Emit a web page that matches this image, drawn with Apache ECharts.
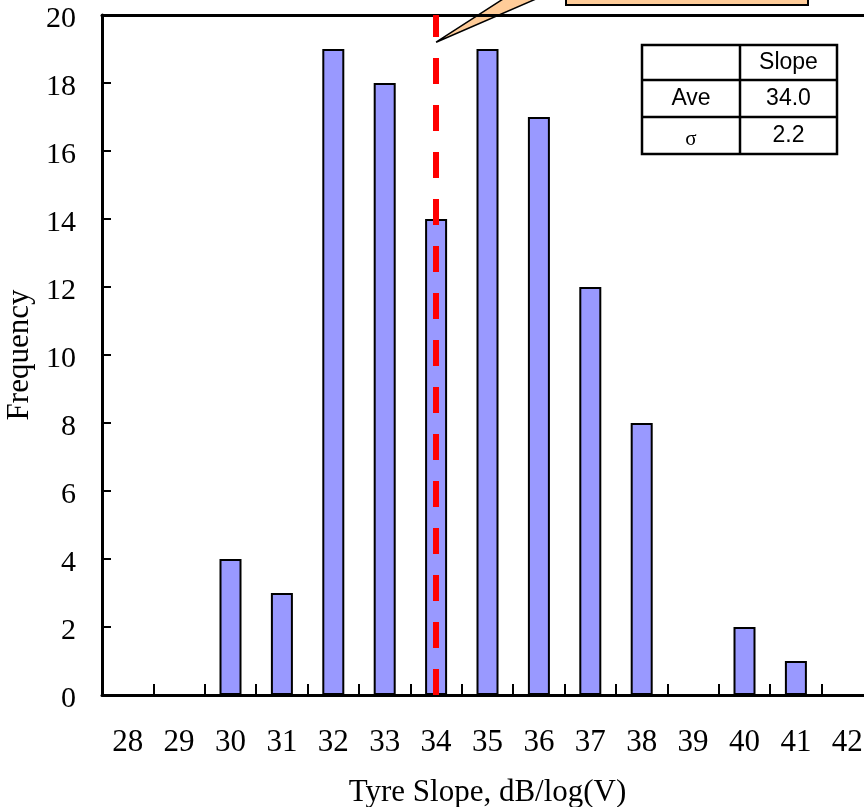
<!DOCTYPE html>
<html>
<head>
<meta charset="utf-8">
<script src="https://cdn.jsdelivr.net/npm/echarts@6/dist/echarts.min.js"></script>
<style>
  html, body { margin: 0; padding: 0; background: #fff; }
  #chart { width: 864px; height: 807px; }
</style>
</head>
<body>
<div id="chart"></div>
<script>
// Tyre slope histogram
const slopeBins = ['28', '29', '30', '31', '32', '33', '34', '35', '36', '37', '38', '39', '40', '41', '42'];
const frequency = [0, 0, 4, 3, 19, 18, 14, 19, 17, 12, 8, 0, 2, 1, 0];
const yTicks = [0, 2, 4, 6, 8, 10, 12, 14, 16, 18, 20];

// summary table
const statHeader = 'Slope';
const statNames = ['Ave', 'σ'];
const statValues = ['34.0', '2.2'];
const averageBin = '34';
const calloutValue = 19.2;

const serif = '"Liberation Serif", "DejaVu Serif", serif';
const sans = '"Liberation Sans", Arial, sans-serif';

const chart = echarts.init(document.getElementById('chart'), null, { renderer: 'canvas' });

const option = {
  animation: false,
  backgroundColor: '#ffffff',
  grid: { left: 102, top: 15, width: 771, height: 680, show: false, containLabel: false, outerBoundsMode: 'none' },
  xAxis: [{
    type: 'category',
    data: slopeBins,
    position: 'bottom',
    boundaryGap: true,
    axisLine: { show: true, lineStyle: { color: '#000', width: 3 } },
    axisTick: { show: true, inside: true, alignWithLabel: false, interval: 0, length: 11, lineStyle: { color: '#000', width: 2 } },
    axisLabel: { color: '#000', fontFamily: serif, fontSize: 31, margin: 32, interval: 0 },
    name: 'Tyre Slope, dB/log(V)',
    nameLocation: 'middle',
    nameGap: 82,
    nameTextStyle: { color: '#000', fontFamily: serif, fontSize: 31 },
    z: 5
  }, {
    // top frame line of the plot area
    type: 'category',
    data: slopeBins,
    position: 'top',
    axisLine: { show: true, lineStyle: { color: '#000', width: 3 } },
    axisTick: { show: false },
    axisLabel: { show: false },
    z: 5
  }],
  yAxis: {
    type: 'value',
    min: 0,
    max: 20,
    interval: 2,
    axisLine: { show: true, lineStyle: { color: '#000', width: 3 } },
    axisTick: { show: true, inside: true, length: 9, lineStyle: { color: '#000', width: 2 } },
    axisLabel: {
      color: '#000', fontFamily: serif, fontSize: 30, margin: 26,
      formatter: v => (yTicks.includes(v) ? '{n|' + v + '}' : ''),
      rich: { n: { fontFamily: serif, fontSize: 30, color: '#000', padding: [8, 0, 0, 0] } }
    },
    splitLine: { show: false },
    name: 'Frequency',
    nameLocation: 'middle',
    nameGap: 62,
    nameTextStyle: { color: '#000', fontFamily: serif, fontSize: 31 },
    z: 5
  },
  series: [{
    type: 'bar',
    data: frequency,
    barWidth: 22,
    itemStyle: { color: '#9999ff', borderColor: '#000', borderWidth: 2 },
    markLine: {
      silent: true,
      symbol: 'none',
      label: { show: false },
      lineStyle: { color: '#ff0000', width: 6, type: [26, 21] },
      data: [[{ xAxis: averageBin, yAxis: 0 }, { xAxis: averageBin, yAxis: 20 }]],
      z: 6
    },
    z: 3
  }]
};

chart.setOption(option);

// callout pointing at the average line, and the summary table
const tip = chart.convertToPixel({ xAxisIndex: 0, yAxisIndex: 0 }, [averageBin, calloutValue]);
const rise = tip[1] + 60;
const tbl = { x: 642, y: 45, w: 195, colSplit: 98, rows: [35, 37, 37] };
const rowY = [tbl.y, tbl.y + tbl.rows[0], tbl.y + tbl.rows[0] + tbl.rows[1], tbl.y + tbl.rows[0] + tbl.rows[1] + tbl.rows[2]];

const tableEls = [
  { type: 'rect', shape: { x: tbl.x, y: tbl.y, width: tbl.w, height: rowY[3] - tbl.y },
    style: { fill: '#fff', stroke: '#000', lineWidth: 2.5 } },
  { type: 'line', shape: { x1: tbl.x + tbl.colSplit, y1: tbl.y, x2: tbl.x + tbl.colSplit, y2: rowY[3] },
    style: { stroke: '#000', lineWidth: 2.5 } },
  { type: 'line', shape: { x1: tbl.x, y1: rowY[1], x2: tbl.x + tbl.w, y2: rowY[1] },
    style: { stroke: '#000', lineWidth: 2.5 } },
  { type: 'line', shape: { x1: tbl.x, y1: rowY[2], x2: tbl.x + tbl.w, y2: rowY[2] },
    style: { stroke: '#000', lineWidth: 2.5 } },
  { type: 'text', x: tbl.x + tbl.colSplit + (tbl.w - tbl.colSplit) / 2, y: (rowY[0] + rowY[1]) / 2,
    style: { text: statHeader, font: '23px ' + sans, fill: '#000', align: 'center', verticalAlign: 'middle' } }
];
statNames.forEach((name, i) => {
  const cy = (rowY[i + 1] + rowY[i + 2]) / 2;
  const isGreek = name === 'σ';
  tableEls.push({ type: 'text', x: tbl.x + tbl.colSplit / 2, y: cy + (isGreek ? 4 : 0),
    style: { text: name, font: (isGreek ? '21px ' + serif : '23px ' + sans), fill: '#000', align: 'center', verticalAlign: 'middle' } });
  tableEls.push({ type: 'text', x: tbl.x + tbl.colSplit + (tbl.w - tbl.colSplit) / 2, y: cy,
    style: { text: statValues[i], font: '23px ' + sans, fill: '#000', align: 'center', verticalAlign: 'middle' } });
});

chart.setOption({
  graphic: [
    { type: 'polygon', z: 1,
      shape: { points: [[tip[0], tip[1]], [tip[0] + 1.55 * rise, tip[1] - rise], [tip[0] + 2.31 * rise, tip[1] - rise]] },
      style: { fill: '#ffcc99', stroke: '#000', lineWidth: 1.5 } },
    { type: 'rect', z: 2, shape: { x: 566, y: -40, width: 242, height: 45 },
      style: { fill: '#ffcc99', stroke: '#000', lineWidth: 2 } },
    { type: 'group', z: 10, children: tableEls }
  ]
});
</script>
</body>
</html>
